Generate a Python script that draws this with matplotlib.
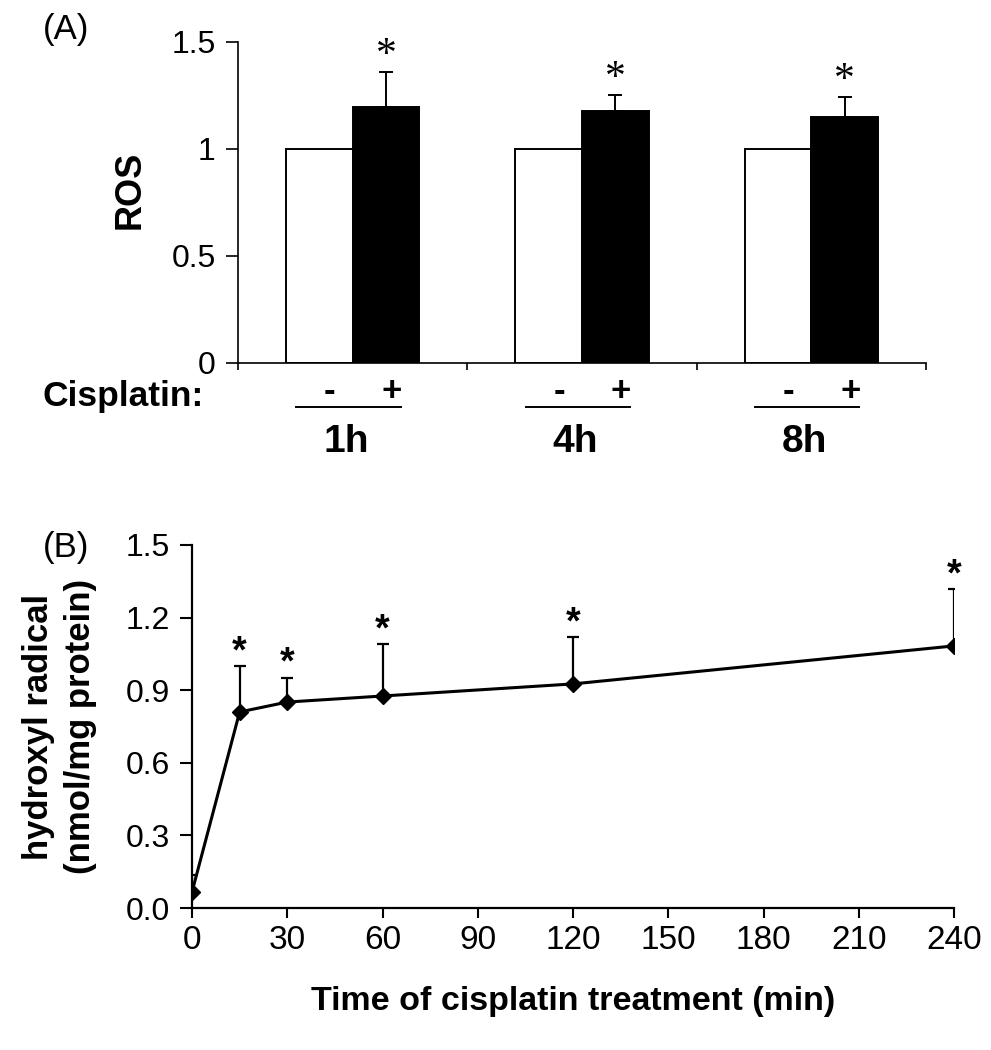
import matplotlib
matplotlib.use("Agg")
import matplotlib.pyplot as plt
import matplotlib.transforms as mtransforms
import numpy as np

plt.rcParams['font.family'] = ['Liberation Sans', 'DejaVu Sans']

# ---- Panel A data ----
groups = ['1h', '4h', '8h']
control_ros = [1.0, 1.0, 1.0]
cis_ros = [1.196, 1.178, 1.150]
cis_ros_err = [0.164, 0.074, 0.093]
a_yticks = [0, 0.5, 1, 1.5]
a_yticklabels = ['0', '0.5', '1', '1.5']

# ---- Panel B data ----
time_min = [0, 15, 30, 60, 120, 240]
hydroxyl = [0.066, 0.810, 0.851, 0.876, 0.926, 1.083]
hydroxyl_err = [0.070, 0.190, 0.100, 0.214, 0.194, 0.235]
b_xticks = [0, 30, 60, 90, 120, 150, 180, 210, 240]
b_yticks = [0.0, 0.3, 0.6, 0.9, 1.2, 1.5]

W, H = 991, 1050
fig = plt.figure(figsize=(W / 100, H / 100), dpi=100)

def px_axes(l, r, t, b):
    return fig.add_axes([l / W, 1 - b / H, (r - l) / W, (b - t) / H])

# ================= Panel A =================
axA = px_axes(238, 926, 42, 363)
centers = np.arange(len(groups)) + 0.5
bw = 0.29
axA.bar(centers - bw / 2, control_ros, width=bw, color='white', edgecolor='black', linewidth=1.4, zorder=2)
axA.bar(centers + bw / 2, cis_ros, width=bw, color='black', edgecolor='black', linewidth=1.4, zorder=2)
axA.errorbar(centers + bw / 2, cis_ros, yerr=[np.zeros(len(cis_ros)), cis_ros_err], fmt='none',
             ecolor='black', elinewidth=1.4, capsize=5, capthick=1.4, zorder=3)
for x, v, e in zip(centers + bw / 2, cis_ros, cis_ros_err):
    axA.annotate('*', xy=(x, v + e), xytext=(0, 12), textcoords='offset points',
                 ha='center', va='center', fontsize=30, family=['Liberation Serif', 'DejaVu Serif'])
axA.set_xlim(0, 3)
axA.set_ylim(0, 1.5)
axA.set_yticks(a_yticks)
axA.set_yticklabels(a_yticklabels)
axA.set_xticks([0, 1, 2, 3])
axA.set_xticklabels([])
axA.tick_params(axis='y', direction='out', length=9, width=1.2, labelsize=23, pad=7)
axA.tick_params(axis='x', direction='out', length=5, width=1.2)
for s in ['top', 'right']:
    axA.spines[s].set_visible(False)
for s in ['left', 'bottom']:
    axA.spines[s].set_linewidth(1.2)
axA.set_ylabel('ROS', fontsize=26, fontweight='bold')
axA.yaxis.set_label_coords(-0.131, 0.54)

tA = mtransforms.blended_transform_factory(axA.transData, axA.transAxes)
fig.text(43 / W, 1 - 397 / H, 'Cisplatin:', ha='left', va='center', fontsize=25.5, fontweight='bold')
for c, g in zip(centers, groups):
    axA.text(c - 0.1, -0.088, '-', transform=tA, ha='center', va='center', fontsize=25,
             fontweight='bold', clip_on=False)
    axA.text(c + 0.17, -0.088, '+', transform=tA, ha='center', va='center', fontsize=25,
             fontweight='bold', clip_on=False)
    axA.plot([c - 0.245, c + 0.21], [-0.137, -0.137], transform=tA, color='black', lw=1.4,
             clip_on=False)
    axA.text(c - 0.03, -0.245, g, transform=tA, ha='center', va='center', fontsize=28,
             fontweight='bold', clip_on=False)
fig.text(43 / W, 1 - 29 / H, '(A)', ha='left', va='center', fontsize=25)

# ================= Panel B =================
axB = px_axes(192, 954, 545, 908)
axB.errorbar(time_min, hydroxyl, yerr=[np.zeros(len(hydroxyl)), hydroxyl_err], fmt='none',
             ecolor='black', elinewidth=1.6, capsize=4, capthick=1.6, zorder=2)
axB.plot(time_min, hydroxyl, color='black', lw=2.2, marker='D', markersize=8.5, zorder=3)
for x, v, e in zip(time_min[1:], hydroxyl[1:], hydroxyl_err[1:]):
    axB.annotate('*', xy=(x, v + e), xytext=(0, 10), textcoords='offset points',
                 ha='center', va='center', fontsize=27, fontweight='bold')
axB.set_xlim(0, 240)
axB.set_ylim(0, 1.5)
axB.set_xticks(b_xticks)
axB.set_yticks(b_yticks)
axB.set_yticklabels([f'{v:.1f}' for v in b_yticks])
axB.tick_params(axis='y', direction='out', length=9, width=1.5, labelsize=23, pad=7)
axB.tick_params(axis='x', direction='out', length=7, width=1.5, labelsize=24, pad=5)
for s in ['top', 'right']:
    axB.spines[s].set_visible(False)
for s in ['left', 'bottom']:
    axB.spines[s].set_linewidth(1.6)
axB.set_ylabel('hydroxyl radical\n(nmol/mg protein)', fontsize=25, fontweight='bold', linespacing=1.35)
axB.yaxis.set_label_coords(-0.125, 0.5)
axB.set_xlabel('Time of cisplatin treatment (min)', fontsize=24.5, fontweight='bold')
axB.xaxis.set_label_coords(0.5, -0.215)
fig.text(43 / W, 1 - 548 / H, '(B)', ha='left', va='center', fontsize=25)

fig.savefig('out.png', dpi=100)
